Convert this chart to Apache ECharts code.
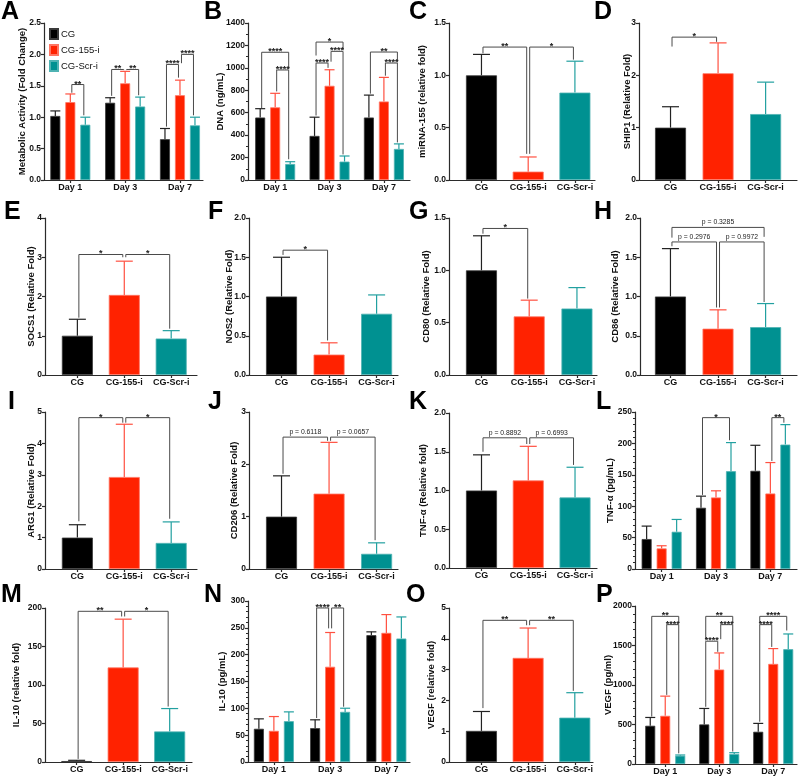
<!DOCTYPE html>
<html>
<head>
<meta charset="utf-8">
<script src="https://cdn.jsdelivr.net/npm/echarts@6/dist/echarts.min.js"></script>
<style>
  html, body { margin: 0; padding: 0; background: #fff; }
  #chart { width: 798px; height: 779px; }
</style>
</head>
<body>
<div id="chart"></div>
<script>
const groups = ['CG', 'CG-155-i', 'CG-Scr-i'];
const days = ['Day 1', 'Day 3', 'Day 7'];

// grouped panels: one row per group (CG, CG-155-i, CG-Scr-i), one value per day
// significance: [fromSlot, toSlot, lineY, fromEndY, toEndY, label], slot = day * 3 + group
const metabMean = [[1.02, 1.23, 0.65], [1.24, 1.54, 1.35], [0.88, 1.17, 0.87]];
const metabSd = [[0.08, 0.08, 0.17], [0.13, 0.19, 0.24], [0.12, 0.15, 0.13]];
const metabSig = [
  [1, 2, 1.52, 1.39, 1.03, '**'],
  [3, 4, 1.76, 1.34, 1.75, '**'],
  [4, 5, 1.76, 1.75, 1.35, '**'],
  [6, 7, 1.84, 0.85, 1.63, '****'],
  [7, 8, 2.0, 1.86, 1.03, '****'],
];

const dnaMean = [[557, 393, 557], [648, 840, 700], [143, 164, 277]];
const dnaSd = [[79, 167, 200], [125, 143, 215], [20, 50, 45]];
const dnaSig = [
  [0, 2, 1139, 640, 990, '****'],
  [1, 2, 981, 790, 185, '****'],
  [3, 5, 1230, 1110, 1160, '*'],
  [3, 4, 1043, 575, 1000, '****'],
  [4, 5, 1147, 1055, 228, '****'],
  [6, 8, 1141, 770, 1058, '**'],
  [7, 8, 1043, 930, 335, '****'],
];

const tnfMean = [[47.7, 97.5, 156.3], [32.8, 113.9, 120.2], [59.3, 155.7, 198.1]];
const tnfSd = [[20.6, 18.5, 40.7], [4.2, 10.6, 49.3], [19.6, 45.6, 31.8]];
const tnfSig = [[3, 5, 241, 118, 205, '*'], [7, 8, 241, 172, 233, '**']];

const il10Mean = [[61.9, 63.1, 236.3], [58.1, 177.5, 240.6], [76.1, 93.4, 230.1]];
const il10Sd = [[18.5, 15.5, 6.2], [26.6, 63.8, 34.1], [17.3, 6.8, 40.2]];
const il10Sig = [[3, 4, 287, 82, 249, '****'], [4, 5, 287, 249, 103, '**']];

const vegfMean = [[484, 501, 408], [610, 1196, 1267], [105, 126, 1453]];
const vegfSd = [[105, 202, 106], [249, 210, 194], [9, 17, 193]];
const vegfSig = [
  [0, 2, 1869, 600, 1790, '**'],
  [1, 2, 1764, 875, 135, '****'],
  [3, 5, 1869, 1580, 1790, '**'],
  [3, 4, 1554, 724, 1420, '****'],
  [4, 5, 1764, 1580, 158, '****'],
  [6, 8, 1869, 1790, 1690, '****'],
  [6, 7, 1764, 535, 1482, '****'],
];

// single panels: one value per group; slot = group index
const mirMean = [1.0, 0.08, 0.835];
const mirSd = [0.2, 0.14, 0.3];
const mirSig = [[0, 1, 1.27, 1.21, 0.25, '**'], [1, 2, 1.27, 0.25, 1.15, '*']];

const ship1Mean = [1.0, 2.04, 1.26];
const ship1Sd = [0.4, 0.58, 0.61];
const ship1Sig = [[0, 1, 2.73, 2.55, 2.64, '*']];

const socs1Mean = [1.0, 2.04, 0.93];
const socs1Sd = [0.42, 0.86, 0.2];
const socs1Sig = [[0, 1, 3.07, 1.46, 3.0, '*'], [1, 2, 3.07, 3.0, 1.18, '*']];

const nos2Mean = [1.0, 0.26, 0.78];
const nos2Sd = [0.5, 0.15, 0.24];
const nos2Sig = [[0, 1, 1.59, 1.53, 0.44, '*']];

const cd80Mean = [1.0, 0.56, 0.635];
const cd80Sd = [0.33, 0.155, 0.2];
const cd80Sig = [[0, 1, 1.4, 1.35, 0.73, '*']];

const cd86Mean = [1.0, 0.59, 0.61];
const cd86Sd = [0.61, 0.24, 0.3];
const cd86Sig = [
  [0, 2, 1.88, 1.75, 1.76, 'p = 0.3285'],
  [0, 1, 1.695, 1.64, 0.86, 'p = 0.2976'],
  [1, 2, 1.695, 0.86, 0.93, 'p = 0.9972'],
];

const arg1Mean = [1.0, 2.93, 0.83];
const arg1Sd = [0.41, 1.68, 0.67];
const arg1Sig = [[0, 1, 4.82, 1.52, 4.66, '*'], [1, 2, 4.82, 4.66, 1.6, '*']];

const cd206Mean = [1.0, 1.44, 0.29];
const cd206Sd = [0.78, 0.98, 0.21];
const cd206Sig = [[0, 1, 2.52, 1.82, 2.45, 'p = 0.6118'], [1, 2, 2.52, 2.45, 0.55, 'p = 0.0657']];

const tnfFoldMean = [1.0, 1.13, 0.91];
const tnfFoldSd = [0.46, 0.44, 0.39];
const tnfFoldSig = [[0, 1, 1.68, 1.5, 1.6, 'p = 0.8892'], [1, 2, 1.68, 1.6, 1.33, 'p = 0.6993']];

const il10FoldMean = [1.2, 122.8, 39.7];
const il10FoldSd = [1.0, 62.7, 29.7];
const il10FoldSig = [[0, 1, 195.7, 4, 189, '**'], [1, 2, 195.7, 189, 72, '*']];

const vegfFoldMean = [1.01, 3.38, 1.44];
const vegfFoldSd = [0.63, 0.97, 0.81];
const vegfFoldSig = [[0, 1, 4.6, 1.75, 4.44, '**'], [1, 2, 4.6, 4.44, 2.31, '**']];

const colors = ['#000000', '#ff2200', '#009191'];
const edgeColors = ['#3a3a3a', '#ff7563', '#4fb3b3'];
const whiskerColors = ['#222222', '#ff5040', '#22a0a0'];
const FONT = '"Liberation Sans", Arial, sans-serif';
const AXIS = '#2b2b2b';
const BAR_STEP = 15; // bar width 10 + gap 5 in grouped panels

const panels = [
  { letter: 'A', lx: 1, ly: 0, left: 44, top: 23, width: 159, height: 157, xMin: -0.48, xMax: 2.42, yMax: 2.5, yStep: 0.5, dec: 1, name: 'Metabolic Activity (Fold Change)', nameGap: 16.5, grouped: true, mean: metabMean, sd: metabSd, sig: metabSig },
  { letter: 'B', lx: 204, ly: 0, left: 248, top: 23, width: 162, height: 157, xMin: -0.5, xMax: 2.48, yMax: 1400, yStep: 200, dec: 0, name: 'DNA (ng/mL)', nameGap: 23, grouped: true, minor: 2, mean: dnaMean, sd: dnaSd, sig: dnaSig },
  { letter: 'C', lx: 409, ly: 0, left: 449, top: 23, width: 146, height: 157, xMin: -0.695, xMax: 2.43, yMax: 1.5, yStep: 0.5, dec: 1, name: 'miRNA-155 (relative fold)', nameGap: 21.5, mean: mirMean, sd: mirSd, sig: mirSig },
  { letter: 'D', lx: 594, ly: 0, left: 639, top: 23, width: 158, height: 157, xMin: -0.663, xMax: 2.66, yMax: 3, yStep: 1, dec: 0, name: 'SHIP1 (Relative Fold)', nameGap: 7, mean: ship1Mean, sd: ship1Sd, sig: ship1Sig },

  { letter: 'E', lx: 4, ly: 200, left: 45, top: 218, width: 152, height: 157, xMin: -0.69, xMax: 2.55, yMax: 4, yStep: 1, dec: 0, name: 'SOCS1 (Relative Fold)', nameGap: 8.8, mean: socs1Mean, sd: socs1Sd, sig: socs1Sig },
  { letter: 'F', lx: 208, ly: 200, left: 249, top: 218, width: 149, height: 157, xMin: -0.684, xMax: 2.45, yMax: 2, yStep: 0.5, dec: 1, name: 'NOS2 (Relative Fold)', nameGap: 15, mean: nos2Mean, sd: nos2Sd, sig: nos2Sig },
  { letter: 'G', lx: 409, ly: 200, left: 449, top: 218, width: 148, height: 157, xMin: -0.68, xMax: 2.42, yMax: 1.5, yStep: 0.5, dec: 1, name: 'CD80 (Relative Fold)', nameGap: 18, mean: cd80Mean, sd: cd80Sd, sig: cd80Sig },
  { letter: 'H', lx: 594, ly: 200, left: 640, top: 218, width: 157, height: 157, xMin: -0.64, xMax: 2.66, yMax: 2, yStep: 0.5, dec: 1, name: 'CD86 (Relative Fold)', nameGap: 19.5, mean: cd86Mean, sd: cd86Sd, sig: cd86Sig },

  { letter: 'I', lx: 8, ly: 390, left: 45, top: 412, width: 152, height: 157, xMin: -0.69, xMax: 2.55, yMax: 5, yStep: 1, dec: 0, name: 'ARG1 (Relative Fold)', nameGap: 8.8, mean: arg1Mean, sd: arg1Sd, sig: arg1Sig },
  { letter: 'J', lx: 208, ly: 390, left: 249, top: 412, width: 149, height: 157, xMin: -0.684, xMax: 2.45, yMax: 3, yStep: 1, dec: 0, name: 'CD206 (Relative Fold)', nameGap: 10, mean: cd206Mean, sd: cd206Sd, sig: cd206Sig },
  { letter: 'K', lx: 409, ly: 390, left: 449, top: 413, width: 148, height: 155, xMin: -0.695, xMax: 2.47, yMax: 2, yStep: 0.5, dec: 1, name: 'TNF-α (Relative fold)', nameGap: 20.5, mean: tnfFoldMean, sd: tnfFoldSd, sig: tnfFoldSig },
  { letter: 'L', lx: 596, ly: 390, left: 635, top: 412, width: 162, height: 157, xMin: -0.49, xMax: 2.49, yMax: 250, yStep: 50, dec: 0, name: 'TNF-α (pg/mL)', nameGap: 19.5, grouped: true, minor: 5, mean: tnfMean, sd: tnfSd, sig: tnfSig },

  { letter: 'M', lx: 1, ly: 583, left: 45, top: 608, width: 147, height: 154, xMin: -0.68, xMax: 2.48, yMax: 200, yStep: 50, dec: 0, name: 'IL-10 (relative fold)', nameGap: 24, mean: il10FoldMean, sd: il10FoldSd, sig: il10FoldSig },
  { letter: 'N', lx: 204, ly: 583, left: 248, top: 601, width: 162, height: 161, xMin: -0.46, xMax: 2.42, yMax: 300, yStep: 50, dec: 0, name: 'IL-10 (pg/mL)', nameGap: 20.5, grouped: true, minor: 5, mean: il10Mean, sd: il10Sd, sig: il10Sig },
  { letter: 'O', lx: 406, ly: 583, left: 449, top: 608, width: 144, height: 154, xMin: -0.695, xMax: 2.39, yMax: 5, yStep: 1, dec: 0, name: 'VEGF (relative fold)', nameGap: 12.5, mean: vegfFoldMean, sd: vegfFoldSd, sig: vegfFoldSig },
  { letter: 'P', lx: 596, ly: 583, left: 635, top: 606, width: 162, height: 158, xMin: -0.56, xMax: 2.44, yMax: 2000, yStep: 500, dec: 0, name: 'VEGF (pg/ml)', nameGap: 21.5, grouped: true, minor: 5, mean: vegfMean, sd: vegfSd, sig: vegfSig },
];

const option = {
  animation: false,
  backgroundColor: '#fff',
  legend: {
    data: groups,
    orient: 'vertical',
    left: 49,
    top: 28,
    padding: 0,
    itemWidth: 8,
    itemHeight: 10,
    itemGap: 4,
    icon: 'rect',
    selectedMode: false,
    textStyle: { fontFamily: FONT, fontSize: 9.5, color: '#111', padding: [0, 0, 0, -2] },
  },
  grid: [],
  xAxis: [],
  yAxis: [],
  series: [],
  graphic: [],
};

function slotX(api, p, slot) {
  if (!p.grouped) return api.coord([slot, 0])[0];
  const d = Math.floor(slot / 3);
  const s = slot % 3;
  return api.coord([d, 0])[0] + (s - 1) * BAR_STEP;
}

panels.forEach((p, k) => {
  const cats = p.grouped ? days : groups;
  option.grid.push({ left: p.left, top: p.top, width: p.width, height: p.height });

  option.xAxis.push({
    type: 'value',
    gridIndex: k,
    min: p.xMin,
    max: p.xMax,
    splitLine: { show: false },
    axisLine: { show: true, onZero: false, lineStyle: { color: AXIS, width: 1.2 } },
    axisTick: { show: true, customValues: [0, 1, 2], length: 3, lineStyle: { color: AXIS, width: 1.2 } },
    axisLabel: {
      customValues: [0, 1, 2],
      formatter: (v) => cats[Math.round(v)],
      fontFamily: FONT, fontSize: 9, fontWeight: 'bold', color: '#111', margin: 3,
    },
  });

  option.yAxis.push({
    type: 'value',
    gridIndex: k,
    min: 0,
    max: p.yMax,
    interval: p.yStep,
    splitLine: { show: false },
    axisLine: { show: true, onZero: false, lineStyle: { color: AXIS, width: 1.2 } },
    axisTick: { show: true, length: 3, lineStyle: { color: AXIS, width: 1.2 } },
    minorTick: { show: !!p.minor, splitNumber: p.minor || 5, length: 2, lineStyle: { color: AXIS, width: 1 } },
    axisLabel: {
      formatter: (v) => v.toFixed(p.dec),
      fontFamily: FONT, fontSize: 8.5, fontWeight: 'bold', color: '#111', margin: 3,
    },
    name: p.name,
    nameLocation: 'middle',
    nameRotate: 90,
    nameGap: p.nameGap,
    nameMoveOverlap: false,
    nameTextStyle: { fontFamily: FONT, fontSize: 9.5, fontWeight: 'bold', color: '#111' },
  });

  // bars
  groups.forEach((g, s) => {
    const data = p.grouped ? p.mean[s].map((v, d) => [d, v]) : [[s, p.mean[s]]];
    option.series.push({
      type: 'bar',
      name: g,
      xAxisIndex: k,
      yAxisIndex: k,
      data,
      barWidth: p.grouped ? 10 : 31,
      barGap: p.grouped ? '50%' : '-100%',
      itemStyle: { color: colors[s], borderColor: edgeColors[s], borderWidth: 0.8 },
      silent: true,
    });
  });

  // error bars (upper whisker only)
  const errData = [];
  groups.forEach((g, s) => {
    if (p.grouped) p.mean[s].forEach((v, d) => errData.push([d * 3 + s, v, v + p.sd[s][d], s]));
    else errData.push([s, p.mean[s], p.mean[s] + p.sd[s], s]);
  });
  const capHalf = p.grouped ? 5 : 8.5;
  option.series.push({
    type: 'custom',
    xAxisIndex: k,
    yAxisIndex: k,
    silent: true,
    data: errData,
    renderItem: (params, api) => {
      const x = slotX(api, p, api.value(0));
      const yb = api.coord([0, api.value(1)])[1];
      const yt = api.coord([0, api.value(2)])[1];
      const c = whiskerColors[api.value(3)];
      return {
        type: 'group',
        children: [
          { type: 'line', shape: { x1: x, y1: yb, x2: x, y2: yt }, style: { stroke: c, lineWidth: 1.2 } },
          { type: 'line', shape: { x1: x - capHalf, y1: yt, x2: x + capHalf, y2: yt }, style: { stroke: c, lineWidth: 1.2 } },
        ],
      };
    },
  });

  // significance brackets
  option.series.push({
    type: 'custom',
    xAxisIndex: k,
    yAxisIndex: k,
    silent: true,
    data: p.sig.map((b) => b.slice(0, 5)),
    renderItem: (params, api) => {
      const b = p.sig[params.dataIndex];
      const x1 = slotX(api, p, b[0]) + 1.5;
      const x2 = slotX(api, p, b[1]) - 1.5;
      const y = api.coord([0, b[2]])[1];
      const y1 = api.coord([0, b[3]])[1];
      const y2 = api.coord([0, b[4]])[1];
      const star = b[5][0] === '*';
      return {
        type: 'group',
        children: [
          {
            type: 'polyline',
            shape: { points: [[x1, y1], [x1, y], [x2, y], [x2, y2]] },
            style: { stroke: '#4a4a4a', lineWidth: 1, fill: 'none' },
          },
          {
            type: 'text',
            x: (x1 + x2) / 2,
            y: star ? y + 4 : y - 1.5,
            style: {
              text: b[5],
              align: 'center',
              verticalAlign: 'bottom',
              fontFamily: FONT,
              fontSize: star ? 9 : 6.8,
              fontWeight: star ? 'bold' : 'normal',
              fill: '#222',
            },
          },
        ],
      };
    },
  });

  option.graphic.push({
    type: 'text',
    left: p.lx,
    top: p.ly,
    style: { text: p.letter, fontFamily: FONT, fontSize: 25, fontWeight: 'bold', fill: '#000' },
  });
});

const chart = echarts.init(document.getElementById('chart'));
chart.setOption(option);
</script>
</body>
</html>
